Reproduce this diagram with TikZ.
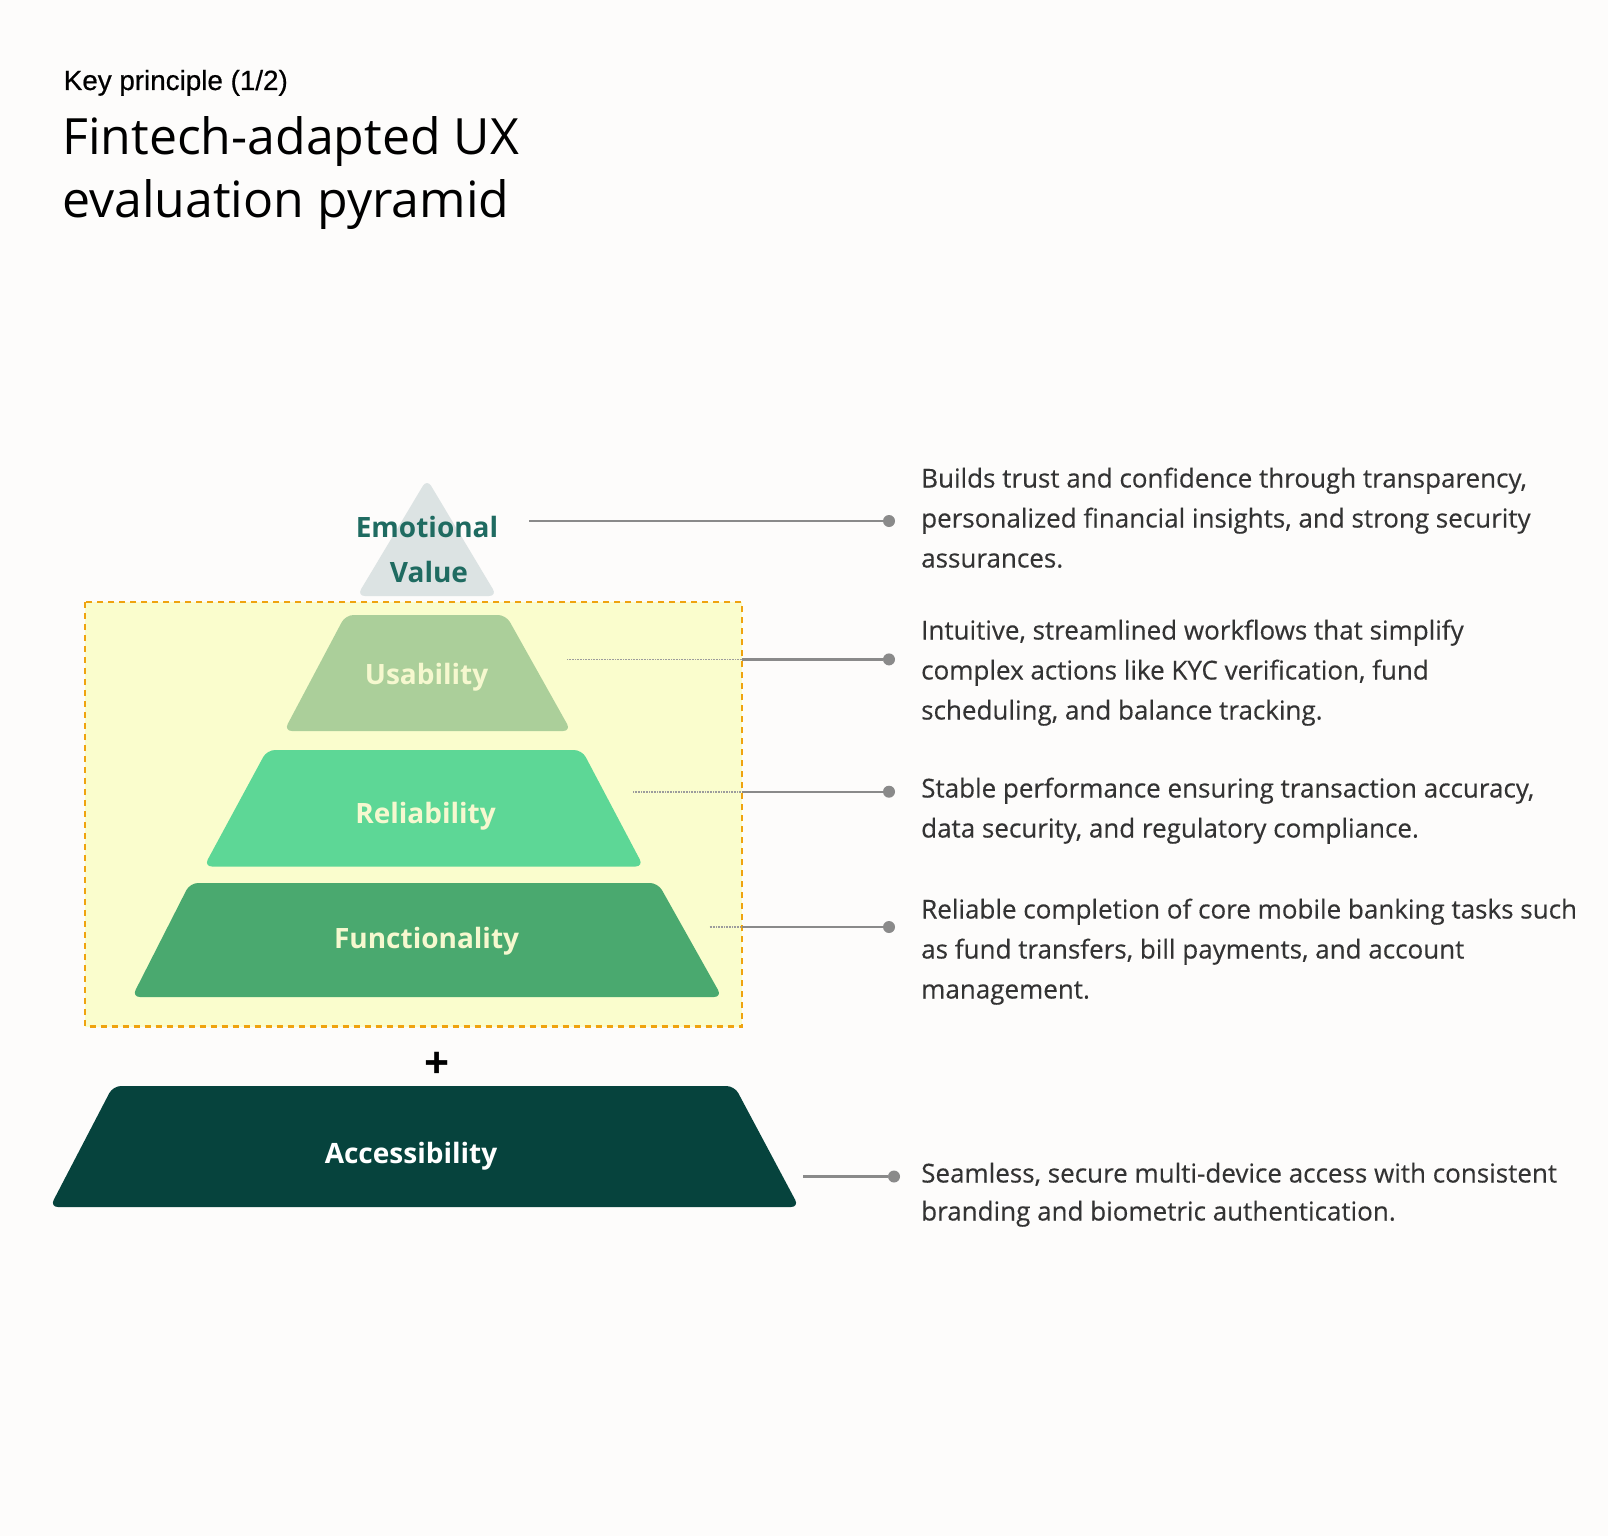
\documentclass[tikz,border=0pt]{standalone}
\usepackage{fontspec}
\setmainfont{Open Sans}
\newfontfamily\keyfont[FakeBold=0.6]{Liberation Sans}
\newfontfamily\descfont[FakeBold=0.3]{Open Sans}
\definecolor{bg}{HTML}{FDFCFB}
\definecolor{emofill}{HTML}{DCE3E3}
\definecolor{emotext}{HTML}{1F6B61}
\definecolor{boxfill}{HTML}{FAFDCD}
\definecolor{boxline}{HTML}{EFA30F}
\definecolor{usafill}{HTML}{ABCF9A}
\definecolor{relfill}{HTML}{5DD796}
\definecolor{funfill}{HTML}{4AA96F}
\definecolor{accfill}{HTML}{06433D}
\definecolor{paletext}{HTML}{F6F8CF}
\definecolor{conngray}{HTML}{8A8A8A}
\definecolor{desctext}{HTML}{333333}
\begin{document}
\begin{tikzpicture}[x=1pt,y=-1pt,
  layer/.style={rounded corners=8pt},
  lbl/.style={font=\fontsize{28}{34}\selectfont\bfseries, inner sep=0pt, anchor=base},
  desc/.style={font=\descfont\fontsize{26}{40}\selectfont, text=desctext, align=left, inner sep=0pt, anchor=base west},
  conn/.style={draw=conngray, line width=2.2pt},
  innerconn/.style={draw=conngray!85, line width=1.6pt, dash pattern=on 1pt off 0.6pt},
  enddot/.style={circle, fill=conngray, inner sep=0pt, minimum size=12pt}]
\useasboundingbox (0,0) rectangle (1608,1536);
\fill[bg] (0,0) rectangle (1608,1536);

% titles
\node[anchor=base west, inner sep=0pt, font=\keyfont\fontsize{27.8}{30}\selectfont] (key) at (63.6,90) {Key principle (1/2)};
\node[anchor=base west, inner sep=0pt, align=left, font=\fontsize{50}{63.5}\selectfont] (title) at (62,217.5) {Fintech-adapted UX\\evaluation pyramid};

% highlighted group box
\path[fill=boxfill, draw=boxline, line width=2.5pt, dash pattern=on 6pt off 5pt] (85,602) rectangle (742,1026.5);

% pyramid layers
\fill[emofill, layer] (357,596) -- (427,479) -- (497,596) -- cycle;
\fill[usafill, layer] (284,731) -- (345.5,615) -- (506,615) -- (571,731) -- cycle;
\fill[relfill, layer] (204,866.5) -- (267,750) -- (582,750) -- (643.5,866.5) -- cycle;
\fill[funfill, layer] (132,997) -- (190,883) -- (658,883) -- (722,997) -- cycle;
\fill[accfill, layer] (50,1207) -- (113,1086) -- (734.5,1086) -- (799,1207) -- cycle;

% layer labels
\node[lbl, text=emotext] (emo) at (427,537.5) {Emotional};
\node[lbl, text=emotext] (val) at (429,582.5) {Value};
\node[lbl, text=paletext] (usa) at (426.6,684) {Usability};
\node[lbl, text=paletext] (rel) at (425.6,823.5) {Reliability};
\node[lbl, text=paletext] (fun) at (426.6,948.6) {Functionality};
\node[lbl, text=white] (acc) at (411,1163) {Accessibility};
\node[font=\fontsize{44}{44}\selectfont\bfseries, inner sep=0pt] (plus) at (437,1065) {+};

% connectors
\coordinate (e0) at (529,521);
\node[enddot] (ed) at (889,521) {};
\draw[conn] (e0) -- (ed);

\coordinate (u0) at (567,659.4);
\coordinate (ub) at (742,659.4);
\node[enddot] (ud) at (889,659.4) {};
\draw[innerconn] (u0) -- (ub);
\draw[conn] (ub) -- (ud);

\coordinate (r0) at (633,791.7);
\coordinate (rb) at (742,791.7);
\node[enddot] (rd) at (889,791.7) {};
\draw[innerconn] (r0) -- (rb);
\draw[conn] (rb) -- (rd);

\coordinate (f0) at (709.6,927);
\coordinate (fb) at (742,927);
\node[enddot] (fd) at (889,927) {};
\draw[innerconn] (f0) -- (fb);
\draw[conn] (fb) -- (fd);

\coordinate (a0) at (803,1176.5);
\node[enddot] (ad) at (894,1176.5) {};
\draw[conn] (a0) -- (ad);

% descriptions (anchored at the baseline of the last line)
\node[desc] (t1) at (921,567.5) {Builds trust and confidence through transparency,\\personalized financial insights, and strong security\\assurances.};
\node[desc] (t2) at (921,719.5) {Intuitive, streamlined workflows that simplify\\complex actions like KYC verification, fund\\scheduling, and balance tracking.};
\node[desc] (t3) at (921,837.5) {Stable performance ensuring transaction accuracy,\\data security, and regulatory compliance.};
\node[desc] (t4) at (921,998.5) {Reliable completion of core mobile banking tasks such\\as fund transfers, bill payments, and account\\management.};
\node[desc, font=\descfont\fontsize{26}{38}\selectfont] (t5) at (921,1220.5) {Seamless, secure multi-device access with consistent\\branding and biometric authentication.};
\end{tikzpicture}
\end{document}
